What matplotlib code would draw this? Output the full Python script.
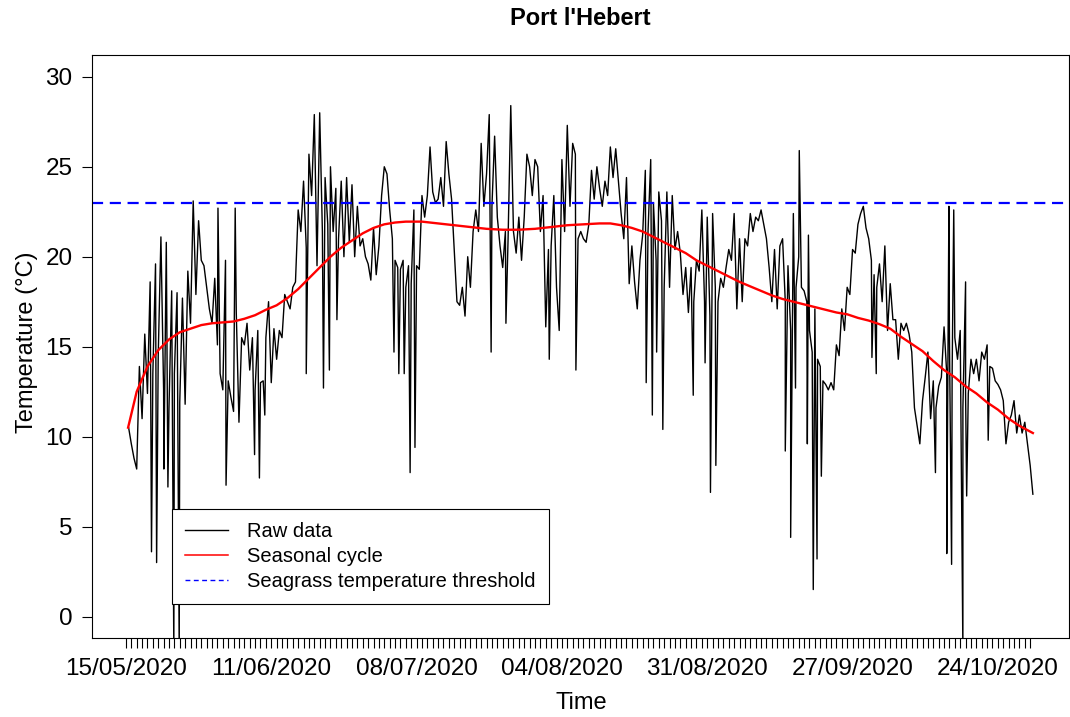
import matplotlib
matplotlib.use("Agg")
import matplotlib.pyplot as plt
import matplotlib.dates as mdates
from matplotlib.lines import Line2D
import pandas as pd

plt.rcParams['font.family'] = ['Liberation Sans', 'DejaVu Sans']

# raw logger temperature (°C), read every 12 hours from 15/05/2020 12:00
raw_temp = [
    10.5, 9.6, 8.8, 8.2, 13.9, 11.0, 15.7, 12.4, 18.6, 13.5,
    19.6, 14.5, 21.1, 12.6, 20.8, 11.6, 18.1, 13.5, 18.0, 11.9,
    17.7, 11.8, 19.2, 16.3, 23.1, 17.9, 22.0, 19.8, 19.5, 18.3,
    17.1, 16.3, 18.8, 15.1, 13.5, 12.6, 19.8, 13.1, 12.2, 11.4,
    16.9, 10.8, 15.5, 15.1, 16.3, 13.7, 15.5, 12.6, 15.9, 13.0,
    13.1, 15.5, 17.5, 13.0, 16.0, 14.3, 15.9, 15.5, 17.9, 17.5,
    17.1, 18.3, 18.6, 22.6, 21.4, 24.2, 20.5, 25.7, 23.4, 27.9,
    19.5, 28.0, 21.4, 24.4, 21.8, 25.0, 21.4, 23.8, 21.0, 24.2,
    20.0, 24.4, 20.8, 24.0, 20.0, 22.8, 20.6, 21.0, 20.0, 19.6,
    18.7, 21.6, 19.0, 20.6, 23.4, 25.0, 24.6, 22.6, 21.0, 19.8,
    19.4, 19.3, 19.8, 18.3, 19.5, 18.5, 22.6, 19.5, 19.3, 23.4,
    22.2, 23.4, 26.1, 23.6, 23.0, 23.2, 24.4, 22.8, 26.4, 24.6,
    23.2, 20.4, 17.5, 17.3, 18.3, 16.7, 20.0, 18.3, 21.4, 22.6,
    21.4, 26.3, 22.8, 24.6, 27.9, 22.8, 26.7, 22.2, 20.6, 19.4,
    21.4, 21.0, 28.4, 21.4, 20.2, 22.2, 19.8, 22.2, 25.7, 25.0,
    23.4, 25.4, 25.0, 21.4, 23.4, 16.1, 20.4, 20.6, 23.4, 18.3,
    15.9, 25.4, 21.4, 27.3, 22.8, 26.3, 25.7, 21.0, 21.4, 21.0,
    20.8, 21.8, 24.8, 23.2, 25.0, 23.8, 22.8, 24.2, 23.4, 26.1,
    24.4, 26.0, 24.2, 22.4, 21.0, 24.4, 18.5, 20.6, 18.6, 17.1,
    19.8, 21.2, 24.8, 21.4, 25.4, 23.0, 19.8, 23.6, 22.0, 18.3,
    23.6, 18.3, 23.4, 20.4, 21.4, 20.2, 17.9, 19.4, 16.9, 19.4,
    17.5, 19.8, 19.2, 22.6, 17.5, 22.2, 16.7, 22.4, 18.3, 17.5,
    18.8, 18.3, 19.4, 20.4, 19.8, 22.4, 17.1, 21.0, 17.5, 21.0,
    20.6, 22.4, 21.4, 22.2, 22.0, 22.6, 21.8, 21.0, 19.4, 17.5,
    20.4, 17.1, 20.6, 21.0, 17.5, 19.5, 15.9, 22.4, 18.3, 20.0,
    18.3, 18.1, 17.5, 15.9, 14.7, 17.1, 14.3, 13.9, 13.1, 12.9,
    12.6, 13.0, 12.6, 15.1, 14.5, 17.1, 15.9, 18.3, 17.9, 20.4,
    20.2, 21.8, 22.4, 22.8, 21.6, 21.0, 19.8, 19.0, 18.3, 19.6,
    17.5, 20.6, 15.9, 18.5, 16.5, 16.5, 14.3, 16.3, 15.9, 16.3,
    15.7, 14.7, 11.6, 10.6, 9.6, 12.0, 13.3, 14.7, 11.0, 13.1,
    11.6, 12.8, 13.3, 16.1, 13.5, 15.5, 13.5, 15.5, 14.3, 15.9,
    11.6, 12.4, 12.4, 14.3, 13.5, 14.3, 13.1, 14.7, 14.3, 15.1,
    13.9, 13.8, 13.1, 12.9, 12.6, 12.0, 9.6, 10.8, 11.2, 12.0,
    10.2, 11.2, 10.2, 10.8, 9.6, 8.4, 6.8,
]

# short tidal excursions (days after 15/05/2020, °C)
spike_day = [4.75, 5.7, 7.05, 7.8, 8.9, 9.9, 17.1, 18.6, 20.3, 23.9,
             24.8, 25.8, 33.5, 36.7, 37.8, 39.2, 49.8, 50.7, 51.7, 52.8,
             53.7, 67.85, 70.6, 78.65, 83.6, 96.66, 97.8, 98.6, 99.75, 105.4,
             107.6, 108.6, 109.6, 122.5, 123.5, 124.4, 125.1, 126.6, 126.8, 127.7,
             128.4, 129.2, 138.6, 139.4, 150.4, 152.5, 152.9, 153.4, 153.8, 155.5,
             156.0, 156.2, 160.2]
spike_temp = [3.6, 3.0, 8.2, 7.2, -2.0, -2.0, 22.7, 7.3, 22.7, 9.0,
              7.7, 11.2, 13.5, 12.7, 13.7, 16.5, 14.7, 13.5, 13.5, 8.0,
              9.4, 14.7, 16.3, 14.3, 13.7, 13.0, 11.2, 14.7, 10.4, 12.3,
              14.1, 6.9, 8.4, 9.2, 4.4, 12.7, 25.9, 9.6, 21.2, 1.5,
              3.2, 7.8, 14.4, 13.5, 8.0, 3.5, 22.8, 2.9, 22.6, -2.0,
              18.6, 6.7, 9.8]

# fitted seasonal cycle
seasonal_day = [0.4, 2, 4, 6, 8, 10, 12, 14, 16, 18, 20, 22, 24, 26, 28, 30, 32, 34,
                36, 38, 40, 42, 44, 46, 48, 50, 52, 55, 58, 61, 64, 67, 70, 73,
                76, 79, 82, 85, 88, 90, 92, 94, 96, 98, 100, 102, 104, 106, 108,
                110, 112, 114, 116, 118, 120, 122, 124, 126, 128, 130, 132, 134,
                136, 138, 140, 142, 144, 146, 148, 150, 152, 154, 156, 158, 160,
                162, 164, 166, 168.5]
seasonal_temp = [10.5, 12.5, 13.9, 14.8, 15.4, 15.8, 16.0, 16.2, 16.3, 16.35, 16.4,
                 16.55, 16.75, 17.05, 17.3, 17.7, 18.2, 18.8, 19.4, 20.0, 20.5,
                 20.9, 21.3, 21.6, 21.8, 21.9, 21.95, 21.95, 21.85, 21.75, 21.65,
                 21.55, 21.5, 21.5, 21.55, 21.65, 21.75, 21.8, 21.85, 21.85, 21.75,
                 21.6, 21.4, 21.1, 20.8, 20.5, 20.2, 19.8, 19.5, 19.2, 18.9, 18.6,
                 18.35, 18.1, 17.85, 17.65, 17.5, 17.35, 17.2, 17.05, 16.9, 16.8,
                 16.6, 16.45, 16.25, 16.0, 15.55, 15.15, 14.75, 14.2, 13.7, 13.3,
                 12.8, 12.4, 11.9, 11.5, 11.0, 10.6, 10.2]

threshold = 23
label_days = [0, 27, 54, 81, 108, 135, 162]

start = pd.Timestamp("2020-05-15")
raw_time = pd.date_range("2020-05-15 12:00", periods=len(raw_temp), freq="12h")
spike_time = [start + pd.Timedelta(days=d) for d in spike_day]
raw = pd.DataFrame({"time": list(raw_time) + spike_time,
                    "temp": raw_temp + spike_temp}).sort_values("time")
seasonal_time = [start + pd.Timedelta(days=d) for d in seasonal_day]

fig = plt.figure(figsize=(10.7, 7.17), dpi=100)
ax = fig.add_axes([0.086, 0.110, 0.913, 0.813])

ax.plot(raw["time"], raw["temp"], color="black", lw=1.0)
ax.plot(seasonal_time, seasonal_temp, color="red", lw=1.7)
ax.axhline(threshold, color="blue", lw=1.6, ls=(0, (5, 3)))

ax.set_xlim(start - pd.Timedelta(days=6.3), start + pd.Timedelta(days=175.2))
ax.set_ylim(-1.2, 31.2)

ax.set_xticks([start + pd.Timedelta(days=d) for d in label_days])
ax.xaxis.set_major_formatter(mdates.DateFormatter("%d/%m/%Y"))
ax.set_xticks([start + pd.Timedelta(days=d) for d in range(169)], minor=True)
ax.set_yticks(range(0, 31, 5))
ax.tick_params(which="both", direction="out", length=7, width=0.8,
               labelsize=17.5, pad=7, color="black")

for s in ax.spines.values():
    s.set_linewidth(0.8)
    s.set_color("black")

ax.set_xlabel("Time", fontsize=17)
ax.xaxis.set_label_coords(0.501, -0.1115)
ax.xaxis.label.set_va("center")
ax.set_ylabel("Temperature (°C)", fontsize=17)
ax.yaxis.set_label_coords(-0.0665, 0.508)
ax.yaxis.label.set_va("center")

ax.set_title("Port l'Hebert", fontsize=17, fontweight="bold", y=1.0635, va="center", pad=0)

handles = [Line2D([], [], color="black", lw=1.0),
           Line2D([], [], color="red", lw=1.1),
           Line2D([], [], color="blue", lw=1.0, ls=(0, (3.5, 2.5)))]
leg = ax.legend(handles, ["Raw data", "Seasonal cycle", "Seagrass temperature threshold"],
                loc="upper left", bbox_to_anchor=(0.0818, 0.2213), borderaxespad=0,
                fontsize=14.5, fancybox=False, edgecolor="black", framealpha=1,
                handlelength=2.14, handletextpad=0.95, labelspacing=0.3, borderpad=0.65)
leg.get_frame().set_linewidth(0.8)

fig.savefig("out.png", dpi=100)
